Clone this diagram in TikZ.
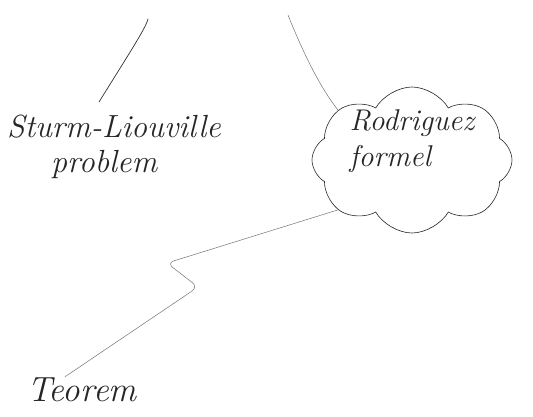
\documentclass[tikz,border=0pt]{standalone}
\usetikzlibrary{shapes.symbols}
\begin{document}
\begin{tikzpicture}[x=1pt,y=-1pt,
  hand/.style={font=\fontsize{32}{35}\selectfont\itshape, text=black!85, inner sep=1pt},
  pen/.style={line width=0.7pt, draw=black!80, line cap=round, line join=round},
  faint/.style={line width=0.5pt, draw=black!55, line cap=round, line join=round}]
\useasboundingbox (0,0) rectangle (533,416);
% nodes
\node[hand, align=left, anchor=north west] (sl) at (6,114) {Sturm-Liouville\\\hspace*{44pt}problem};
\node[cloud, draw=black!85, line width=0.6pt, cloud puffs=8, cloud puff arc=120, aspect=1.35,
      minimum width=200pt, minimum height=146pt] (rf) at (412,160) {};
\node[hand, align=left, font=\fontsize{30}{36}\selectfont\itshape] (rft) at (412,141) {Rodriguez\\formel};
\node[hand, font=\fontsize{35}{36}\selectfont\itshape] (te) at (82,390) {Teorem};
% free ends and bends
\coordinate (t1) at (148,19);
\coordinate (t2) at (288,15);
\coordinate (z1) at (167,263);
\coordinate (z2) at (198,287);
% connectors
\draw[pen] (t1) .. controls (146,28) and (125,60) .. ([xshift=-15pt,yshift=12pt]sl.north);
\draw[faint] (t2) .. controls (300,45) and (318,85) .. (rf.146);
\draw[faint, rounded corners=7pt] (rf.214) -- (z1) -- (z2) -- ([xshift=-17pt]te.north);
\end{tikzpicture}
\end{document}
